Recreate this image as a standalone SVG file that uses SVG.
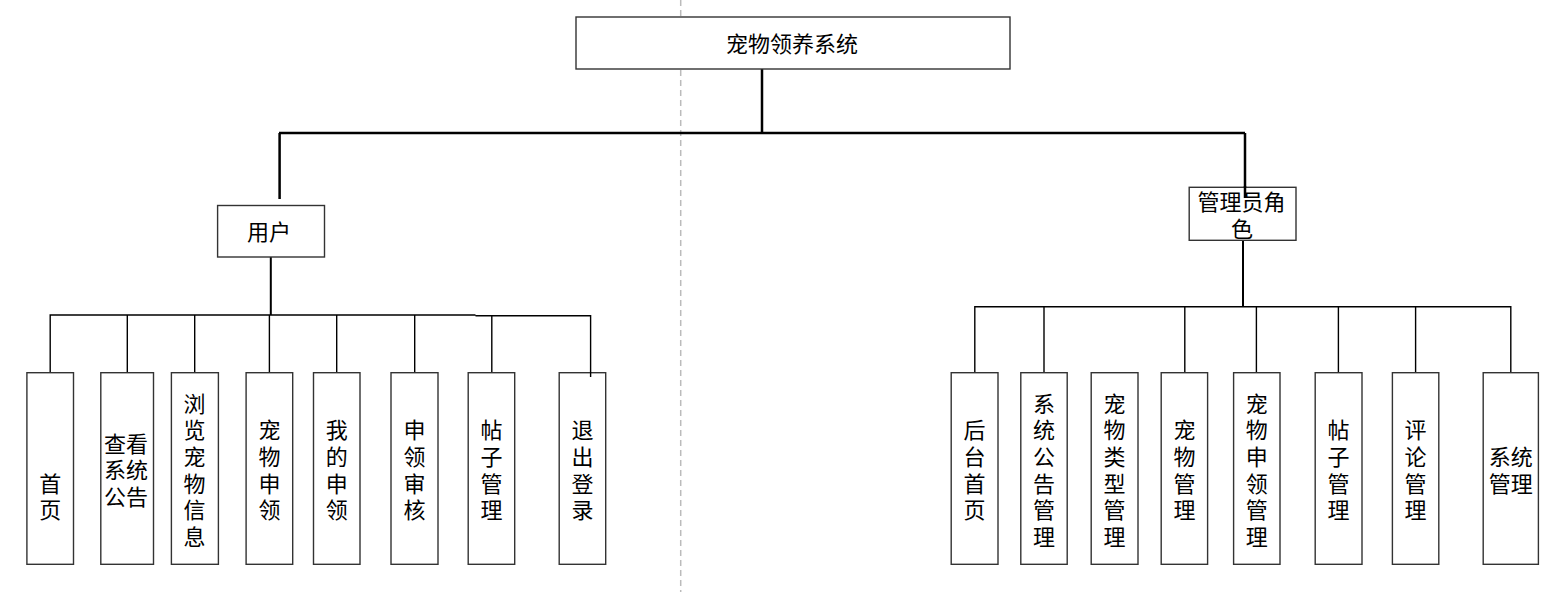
<svg xmlns="http://www.w3.org/2000/svg" width="1567" height="594" viewBox="0 0 1567 594">
<style>
.box{fill:#fff;stroke:#333;stroke-width:1.4}
.t{font-family:"Liberation Sans","Noto Sans CJK SC",sans-serif;font-size:22px;fill:#000;text-anchor:middle}
.c1{stroke:#000;stroke-width:2.5;fill:none}
.c2{stroke:#000;stroke-width:2;fill:none}
.c3{stroke:#000;stroke-width:1.4;fill:none}
.dash{stroke:#bbb;stroke-width:1.5;stroke-dasharray:6 4;fill:none}
</style>
<rect width="1567" height="594" fill="#fff"/>
<line class="dash" x1="680.7" y1="0" x2="680.7" y2="592"/>
<g id="connectors">
<path class="c1" d="M762 69V133M279 133H1245M279.6 133V199M1245 133V198"/>
<path class="c2" d="M270.8 257V315M1243 240V306.7"/>
<path class="c3" d="M50.2 372.7V315H475.5M127.3 315V372.7M194.7 315V372.7M269.4 315V372.7M336.7 315V372.7M414.7 315V372.7M475.5 315.7H590.6V377M491.8 315.7V372.7"/>
<path class="c3" d="M974.8 372.7V306.7H1510.8V372.7M1044 306.7V372.7M1184.8 306.7V372.7M1256.4 306.7V372.7M1338.4 306.7V372.7M1415.6 306.7V372.7"/>
</g>
<g id="root"><rect class="box" x="576" y="17" width="434" height="52"/><text class="t" x="792" y="52">宠物领养系统</text></g>
<g id="user"><rect class="box" x="217.6" y="205.5" width="106.9" height="51.5"/><text class="t" x="269" y="240">用户</text></g>
<g id="admin"><rect class="box" x="1189.2" y="187.3" width="106.8" height="53"/><text class="t"><tspan x="1241.5" y="210.4">管理员角</tspan><tspan x="1242" y="236.9">色</tspan></text></g>
<path class="c1" d="M1245 186V198"/>
<g id="u1"><rect class="box" x="26.9" y="372.7" width="46.6" height="191.6"/><text class="t"><tspan x="50.2" y="491.7">首</tspan><tspan x="50.2" y="518.4">页</tspan></text></g>
<g id="u2"><rect class="box" x="100.8" y="372.7" width="52.7" height="191.6"/><text class="t"><tspan x="126" y="451.7">查看</tspan><tspan x="126" y="478.4">系统</tspan><tspan x="126" y="505.1">公告</tspan></text></g>
<g id="u3"><rect class="box" x="171.4" y="372.7" width="47" height="191.6"/><text class="t"><tspan x="194.5" y="411.7">浏</tspan><tspan x="194.5" y="438.4">览</tspan><tspan x="194.5" y="465.1">宠</tspan><tspan x="194.5" y="491.7">物</tspan><tspan x="194.5" y="518.4">信</tspan><tspan x="194.5" y="545.1">息</tspan></text></g>
<g id="u4"><rect class="box" x="246.1" y="372.7" width="46.6" height="191.6"/><text class="t"><tspan x="269.4" y="438.4">宠</tspan><tspan x="269.4" y="465.1">物</tspan><tspan x="269.4" y="491.7">申</tspan><tspan x="269.4" y="518.4">领</tspan></text></g>
<g id="u5"><rect class="box" x="313.5" y="372.7" width="46.5" height="191.6"/><text class="t"><tspan x="336.7" y="438.4">我</tspan><tspan x="336.7" y="465.1">的</tspan><tspan x="336.7" y="491.7">申</tspan><tspan x="336.7" y="518.4">领</tspan></text></g>
<g id="u6"><rect class="box" x="391" y="372.7" width="47" height="191.6"/><text class="t"><tspan x="414.5" y="438.4">申</tspan><tspan x="414.5" y="465.1">领</tspan><tspan x="414.5" y="491.7">审</tspan><tspan x="414.5" y="518.4">核</tspan></text></g>
<g id="u7"><rect class="box" x="468.2" y="372.7" width="46.5" height="191.6"/><text class="t"><tspan x="491.4" y="438.4">帖</tspan><tspan x="491.4" y="465.1">子</tspan><tspan x="491.4" y="491.7">管</tspan><tspan x="491.4" y="518.4">理</tspan></text></g>
<g id="u8"><rect class="box" x="559.2" y="372.7" width="46.5" height="191.6"/><text class="t"><tspan x="582.4" y="438.4">退</tspan><tspan x="582.4" y="465.1">出</tspan><tspan x="582.4" y="491.7">登</tspan><tspan x="582.4" y="518.4">录</tspan></text></g>
<path class="c3" d="M590.6 372V377"/>
<g id="a1"><rect class="box" x="951.2" y="372.7" width="46.8" height="191.6"/><text class="t"><tspan x="974.6" y="438.4">后</tspan><tspan x="974.6" y="465.1">台</tspan><tspan x="974.6" y="491.7">首</tspan><tspan x="974.6" y="518.4">页</tspan></text></g>
<g id="a2"><rect class="box" x="1020.8" y="372.7" width="46.4" height="191.6"/><text class="t"><tspan x="1044" y="411.7">系</tspan><tspan x="1044" y="438.4">统</tspan><tspan x="1044" y="465.1">公</tspan><tspan x="1044" y="491.7">告</tspan><tspan x="1044" y="518.4">管</tspan><tspan x="1044" y="545.1">理</tspan></text></g>
<g id="a3"><rect class="box" x="1091.2" y="372.7" width="46.8" height="191.6"/><text class="t"><tspan x="1114.6" y="411.7">宠</tspan><tspan x="1114.6" y="438.4">物</tspan><tspan x="1114.6" y="465.1">类</tspan><tspan x="1114.6" y="491.7">型</tspan><tspan x="1114.6" y="518.4">管</tspan><tspan x="1114.6" y="545.1">理</tspan></text></g>
<g id="a4"><rect class="box" x="1161.2" y="372.7" width="46.4" height="191.6"/><text class="t"><tspan x="1184.4" y="438.4">宠</tspan><tspan x="1184.4" y="465.1">物</tspan><tspan x="1184.4" y="491.7">管</tspan><tspan x="1184.4" y="518.4">理</tspan></text></g>
<g id="a5"><rect class="box" x="1233.6" y="372.7" width="46.4" height="191.6"/><text class="t"><tspan x="1256.8" y="411.7">宠</tspan><tspan x="1256.8" y="438.4">物</tspan><tspan x="1256.8" y="465.1">申</tspan><tspan x="1256.8" y="491.7">领</tspan><tspan x="1256.8" y="518.4">管</tspan><tspan x="1256.8" y="545.1">理</tspan></text></g>
<g id="a6"><rect class="box" x="1315.2" y="372.7" width="46.8" height="191.6"/><text class="t"><tspan x="1338.6" y="438.4">帖</tspan><tspan x="1338.6" y="465.1">子</tspan><tspan x="1338.6" y="491.7">管</tspan><tspan x="1338.6" y="518.4">理</tspan></text></g>
<g id="a7"><rect class="box" x="1392.4" y="372.7" width="46.4" height="191.6"/><text class="t"><tspan x="1415.6" y="438.4">评</tspan><tspan x="1415.6" y="465.1">论</tspan><tspan x="1415.6" y="491.7">管</tspan><tspan x="1415.6" y="518.4">理</tspan></text></g>
<g id="a8"><rect class="box" x="1483.2" y="372.7" width="55.2" height="191.6"/><text class="t"><tspan x="1510.8" y="465.1">系统</tspan><tspan x="1510.8" y="491.7">管理</tspan></text></g>
</svg>
